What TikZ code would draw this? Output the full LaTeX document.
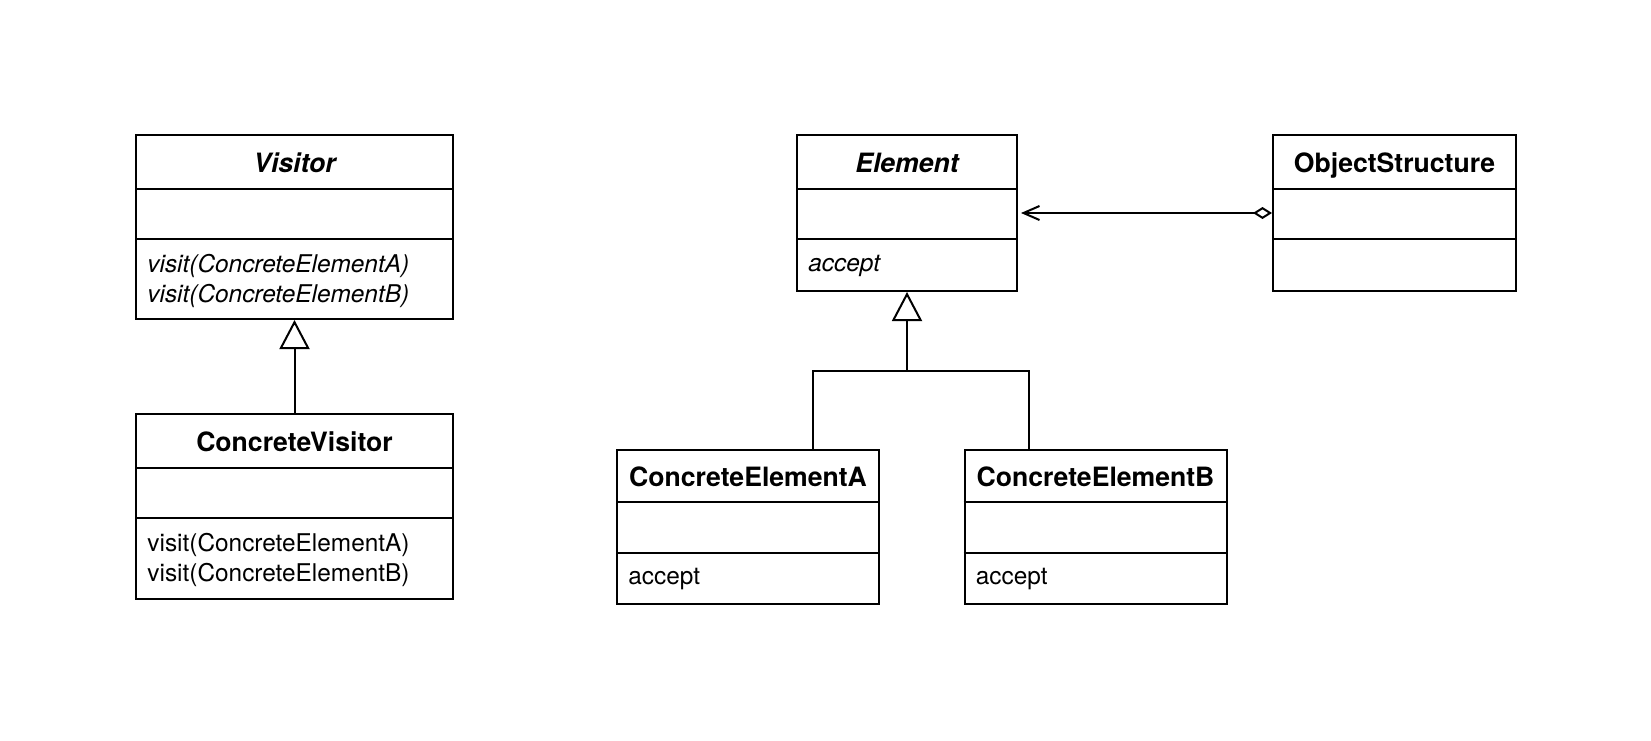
\documentclass[tikz,border=0pt]{standalone}
\usepackage{fontspec}
\setmainfont{TeX Gyre Heros}
\usetikzlibrary{arrows.meta,positioning}

\begin{document}
\begin{tikzpicture}[x=0.5pt,y=-0.5pt,
  classbox/.style={draw,line width=1pt,inner sep=0pt},
  classname/.style={font=\fontsize{13.3}{15}\selectfont\bfseries,text height=9.6pt,text depth=0pt},
  abstractname/.style={classname,font=\fontsize{13.3}{15}\selectfont\bfseries\itshape},
  ops/.style={font=\fontsize{12.2}{15}\selectfont,align=left,anchor=west,inner sep=0pt},
  absops/.style={ops,font=\fontsize{12.2}{15}\selectfont\itshape},
  sep/.style={line width=1pt},
  tree/.style={line width=1pt},
  inherit/.style={-{Triangle[open,length=14.5pt,width=15pt]},line width=1pt},
  aggr/.style={{Diamond[open,length=9.5pt,width=6pt]}-{Straight Barb[length=8pt,width=7pt]},line width=1pt}
]
\useasboundingbox (0,0) rectangle (1651,740);

% visitor side
\node[classbox,minimum width=158.5pt,minimum height=92pt] (visitor) at (294.5,227) {};
\node[abstractname] (visitorname) at ([yshift=-14.25pt]visitor.north) {Visitor};
\draw[sep] ([yshift=-27.5pt]visitor.north west) -- ([yshift=-27.5pt]visitor.north east);
\draw[sep] ([yshift=-52.5pt]visitor.north west) -- ([yshift=-52.5pt]visitor.north east);
\node[absops] (visitorops) at ([xshift=6pt,yshift=-73.5pt]visitor.north west) {visit(ConcreteElementA)\\visit(ConcreteElementB)};

\node[classbox,minimum width=158.5pt,minimum height=92.5pt] (cvisitor) at (294.5,506.5) {};
\node[classname] (cvisitorname) at ([yshift=-14.25pt]cvisitor.north) {ConcreteVisitor};
\draw[sep] ([yshift=-27.5pt]cvisitor.north west) -- ([yshift=-27.5pt]cvisitor.north east);
\draw[sep] ([yshift=-52.5pt]cvisitor.north west) -- ([yshift=-52.5pt]cvisitor.north east);
\node[ops] (cvisitorops) at ([xshift=6pt,yshift=-73.5pt]cvisitor.north west) {visit(ConcreteElementA)\\visit(ConcreteElementB)};

% element side
\node[classbox,minimum width=110pt,minimum height=78pt] (element) at (907,213) {};
\node[abstractname] (elementname) at ([yshift=-14.25pt]element.north) {Element};
\draw[sep] ([yshift=-27.5pt]element.north west) -- ([yshift=-27.5pt]element.north east);
\draw[sep] ([yshift=-52.5pt]element.north west) -- ([yshift=-52.5pt]element.north east);
\node[absops] (elementops) at ([xshift=6pt,yshift=-66pt]element.north west) {accept};

\node[classbox,minimum width=121.5pt,minimum height=78pt] (objstruct) at (1394.5,213) {};
\node[classname] (objstructname) at ([yshift=-14.25pt]objstruct.north) {ObjectStructure};
\draw[sep] ([yshift=-27.5pt]objstruct.north west) -- ([yshift=-27.5pt]objstruct.north east);
\draw[sep] ([yshift=-52.5pt]objstruct.north west) -- ([yshift=-52.5pt]objstruct.north east);

\node[classbox,minimum width=131pt,minimum height=77pt] (elemA) at (748,527) {};
\node[classname] (elemAname) at ([yshift=-13.75pt]elemA.north) {ConcreteElementA};
\draw[sep] ([yshift=-26.5pt]elemA.north west) -- ([yshift=-26.5pt]elemA.north east);
\draw[sep] ([yshift=-52pt]elemA.north west) -- ([yshift=-52pt]elemA.north east);
\node[ops] (elemAops) at ([xshift=6pt,yshift=-65pt]elemA.north west) {accept};

\node[classbox,minimum width=131pt,minimum height=77pt] (elemB) at (1095.5,527) {};
\node[classname] (elemBname) at ([yshift=-13.75pt]elemB.north) {ConcreteElementB};
\draw[sep] ([yshift=-26.5pt]elemB.north west) -- ([yshift=-26.5pt]elemB.north east);
\draw[sep] ([yshift=-52pt]elemB.north west) -- ([yshift=-52pt]elemB.north east);
\node[ops] (elemBops) at ([xshift=6pt,yshift=-65pt]elemB.north west) {accept};

\coordinate (junction) at (907,371);

% relations
\draw[inherit] (cvisitor.north) -- (visitor.south);
\draw[tree] ([xshift=32.5pt]elemA.north) |- (junction) -| ([xshift=-33.25pt]elemB.north);
\draw[inherit] (junction) -- (element.south);
\draw[aggr] (objstruct.west) -- ([xshift=1.5pt]element.east);
\end{tikzpicture}
\end{document}
